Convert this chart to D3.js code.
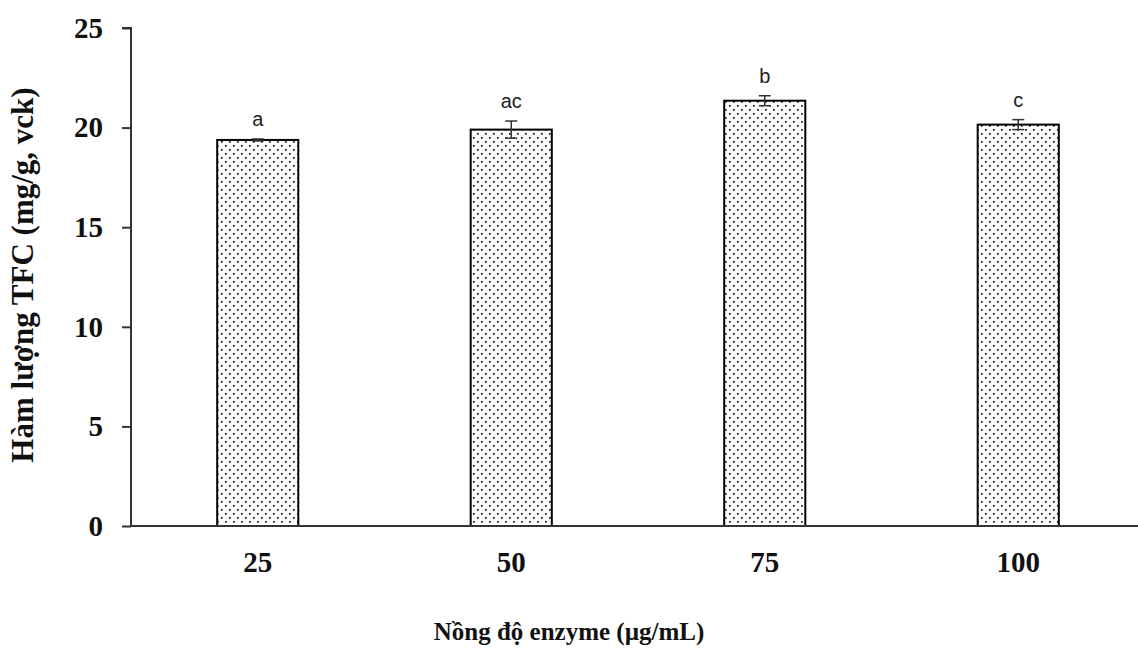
<!DOCTYPE html>
<html><head><meta charset="utf-8">
<script src="https://cdn.jsdelivr.net/npm/d3@7"></script>
<style>body{margin:0;background:#fff}svg{display:block}</style>
</head><body>
<script>
const categories = ["25", "50", "75", "100"];
const values = [19.38, 19.9, 21.35, 20.15];
const errors = [0.05, 0.43, 0.25, 0.25];
const letters = ["a", "ac", "b", "c"];
const yTicks = [0, 5, 10, 15, 20, 25];

const W = 1138, H = 648;
const svg = d3.select("body").append("svg").attr("width", W).attr("height", H);
const defs = svg.append("defs");
const pat = defs.append("pattern").attr("id", "dots").attr("patternUnits", "userSpaceOnUse")
  .attr("width", 8).attr("height", 8);
pat.append("rect").attr("width", 8).attr("height", 8).attr("fill", "#fff");
pat.append("rect").attr("x", 1).attr("y", 1).attr("width", 1.7).attr("height", 1.7).attr("fill", "#111");
pat.append("rect").attr("x", 5).attr("y", 5).attr("width", 1.7).attr("height", 1.7).attr("fill", "#111");

const x = d3.scaleBand().domain(categories).range([131, 1145]).paddingInner(0.68).paddingOuter(0.34);
const y = d3.scaleLinear().domain([0, 25]).range([526, 28]);

// bars
svg.selectAll("rect.bar").data(values).join("rect").attr("class", "bar")
  .attr("x", (d, i) => x(categories[i]))
  .attr("y", d => y(d))
  .attr("width", x.bandwidth())
  .attr("height", d => y(0) - y(d))
  .attr("fill", "url(#dots)").attr("stroke", "#000").attr("stroke-width", 2);

// error bars
const eg = svg.append("g").attr("stroke", "#333").attr("stroke-width", 1.5);
values.forEach((v, i) => {
  const cx = x(categories[i]) + x.bandwidth() / 2;
  const e = errors[i];
  eg.append("line").attr("x1", cx).attr("x2", cx).attr("y1", y(v + e)).attr("y2", y(v - e));
  eg.append("line").attr("x1", cx - 6).attr("x2", cx + 6).attr("y1", y(v + e)).attr("y2", y(v + e));
  eg.append("line").attr("x1", cx - 6).attr("x2", cx + 6).attr("y1", y(v - e)).attr("y2", y(v - e));
});

// letters
svg.selectAll("text.lt").data(letters).join("text").attr("class", "lt")
  .attr("x", (d, i) => x(categories[i]) + x.bandwidth() / 2)
  .attr("y", (d, i) => y(values[i] + errors[i]) - 13)
  .attr("text-anchor", "middle")
  .attr("font-family", "Liberation Sans, Arial, sans-serif").attr("font-size", 20).attr("fill", "#222")
  .text(d => d);

// axes
const yAxis = svg.append("g").attr("transform", "translate(131,0)")
  .call(d3.axisLeft(y).tickValues(yTicks).tickSize(9).tickPadding(19));
const xAxis = svg.append("g").attr("transform", "translate(0,526)")
  .call(d3.axisBottom(x).tickSize(0).tickPadding(25));
[yAxis, xAxis].forEach(g => {
  g.select(".domain").attr("stroke", "#333").attr("stroke-width", 2);
  g.selectAll(".tick line").attr("stroke", "#333").attr("stroke-width", 2);
  g.selectAll("text").attr("font-family", "Liberation Serif, Times New Roman, serif")
    .attr("font-weight", "bold").attr("font-size", 29).attr("fill", "#111");
});
yAxis.select(".domain").attr("d", "M0,526V28H-9");
xAxis.select(".domain").attr("d", "M131,0H1145");

// titles
svg.append("text").attr("x", 569).attr("y", 640).attr("text-anchor", "middle")
  .attr("font-family", "Liberation Serif, Times New Roman, serif").attr("font-weight", "bold")
  .attr("font-size", 25).attr("fill", "#111").text("Nồng độ enzyme (µg/mL)");
svg.append("text").attr("transform", "translate(33,275) rotate(-90)").attr("text-anchor", "middle")
  .attr("font-family", "Liberation Serif, Times New Roman, serif").attr("font-weight", "bold")
  .attr("font-size", 31).attr("fill", "#111").text("Hàm lượng TFC (mg/g, vck)");
</script>
</body></html>
